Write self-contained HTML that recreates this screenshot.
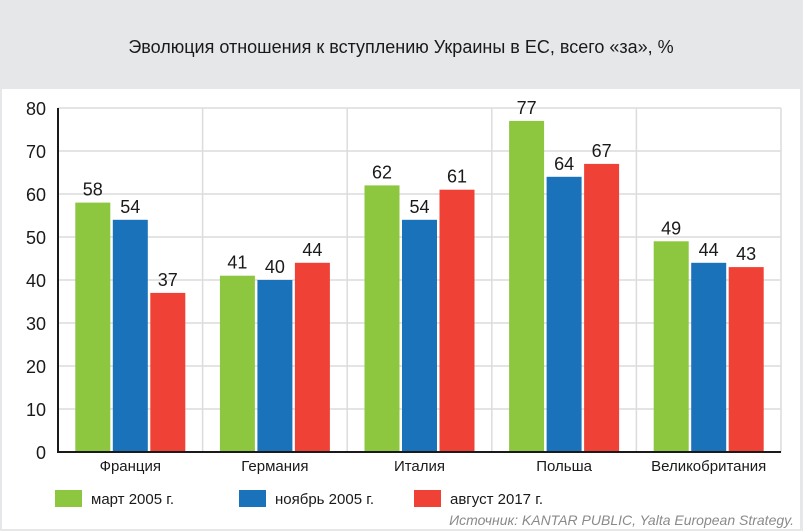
<!DOCTYPE html>
<html><head><meta charset="utf-8"><style>
body{margin:0;background:#e6e7e9;font-family:"Liberation Sans",sans-serif;}
#wrap{position:relative;width:803px;height:531px;overflow:hidden;background:#e6e7e9;}
</style></head><body>
<div id="wrap">
<svg id="chart" width="803" height="531">
<rect x="2" y="89" width="798" height="440" fill="#fff"/>
<text x="401" y="53" text-anchor="middle" font-size="18" fill="#1a1a1a">Эволюция отношения к вступлению Украины в ЕС, всего «за», %</text>
<g id="grid"></g><g id="bars"></g><g id="labels"></g>
<text x="794" y="525" text-anchor="end" font-size="14" font-style="italic" fill="#8a8a8a">Источник: KANTAR PUBLIC, Yalta European Strategy.</text>
</svg></div>
<script>
const categories=["Франция","Германия","Италия","Польша","Великобритания"];
const seriesNames=["март 2005 г.","ноябрь 2005 г.","август 2017 г."];
const march2005=[58,41,62,77,49];
const nov2005=[54,40,54,64,44];
const aug2017=[37,44,61,67,43];
const yTicks=[0,10,20,30,40,50,60,70,80];
const colors=["#8dc63f","#1a73ba","#ef4136"];
const series=[march2005,nov2005,aug2017];
const NS="http://www.w3.org/2000/svg";
const x0=58,x1=781,yTop=108,yBot=452,yMax=80;
const gw=(x1-x0)/categories.length;
const y=v=>yBot-(v/yMax)*(yBot-yTop);
function mk(t,a,p){const e=document.createElementNS(NS,t);for(const k in a)e.setAttribute(k,a[k]);p.appendChild(e);return e;}
const grid=document.getElementById('grid'),bars=document.getElementById('bars'),labels=document.getElementById('labels');
yTicks.forEach(t=>{
 const l=mk('line',{x1:x0,x2:x1,y1:y(t),y2:y(t),stroke:'#dcdcdc','stroke-width':1.5},grid);
 
 
 const tx=mk('text',{x:46,y:y(t)+7,'text-anchor':'end','font-size':18,fill:'#1a1a1a'},labels);
 tx.textContent=t;
 
 
});
categories.forEach((c,i)=>{
 const gx=x0+gw*(i+1);
 const v=mk('line',{x1:gx,x2:gx,y1:yTop,y2:yBot,stroke:'#dcdcdc','stroke-width':1.5},grid);
 
 
 const cx=x0+gw*(i+0.5);
 series.forEach((s,j)=>{
  const bx=cx+(j-1)*37.5-17.5;
  const r=mk('rect',{x:bx,y:y(s[i]),width:35,height:yBot-y(s[i]),fill:colors[j]},bars);
  
  
  const t=mk('text',{x:bx+17.5,y:y(s[i])-7,'text-anchor':'middle','font-size':18,fill:'#1a1a1a'},labels);
  t.textContent=s[i];
  
  
 });
 const ct=mk('text',{x:cx,y:471,'text-anchor':'middle','font-size':15,fill:'#1a1a1a'},labels);
 ct.textContent=c;
 
 
});
const ax=mk('line',{x1:x0,x2:x0,y1:yTop,y2:yBot+1,stroke:'#1a1a1a','stroke-width':2},labels);


const bx=mk('line',{x1:x0,x2:x1,y1:yBot,y2:yBot,stroke:'#1a1a1a','stroke-width':2},labels);


const legX=[55,239,414];
seriesNames.forEach((n,j)=>{
 const r=mk('rect',{x:legX[j],y:490,width:27,height:17,fill:colors[j]},labels);
 
 
 const t=mk('text',{x:legX[j]+36,y:504,'font-size':15,fill:'#1a1a1a'},labels);
 t.textContent=n;
 
 
});
</script>
</body></html>
